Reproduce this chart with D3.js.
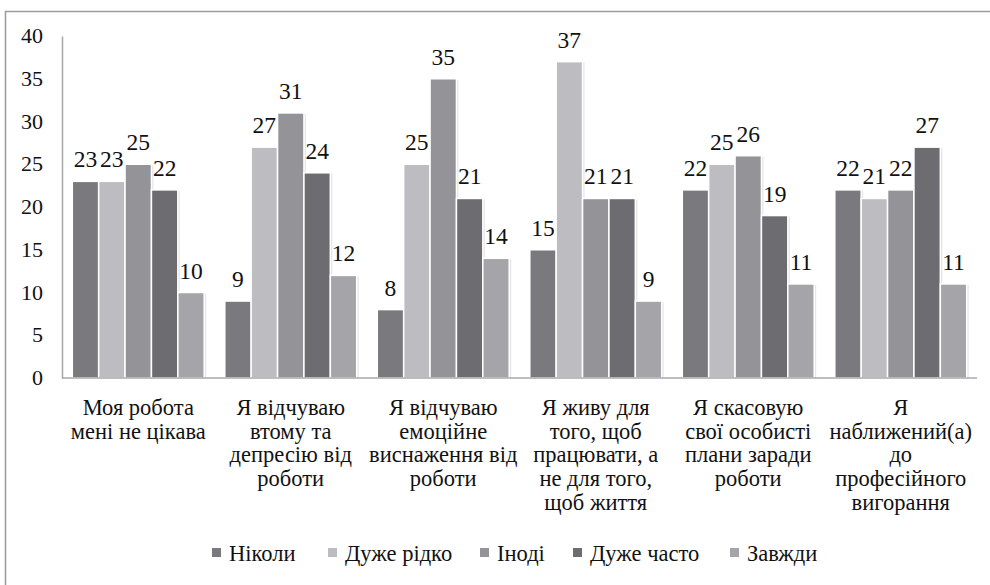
<!DOCTYPE html>
<html>
<head>
<meta charset="utf-8">
<script src="https://cdn.jsdelivr.net/npm/d3@7"></script>
<style>
  body { margin: 0; }
  #chart text { font-family: "Liberation Serif", "Times New Roman", Tinos, serif !important; }
</style>
</head>
<body>
<svg id="chart" width="990" height="585"></svg>
<script>
// Categories (statements), wrapped as shown on the axis
const categories = [
  ["Моя робота", "мені не цікава"],
  ["Я відчуваю", "втому та", "депресію від", "роботи"],
  ["Я відчуваю", "емоційне", "виснаження від", "роботи"],
  ["Я живу для", "того, щоб", "працювати, а", "не для того,", "щоб життя"],
  ["Я скасовую", "свої особисті", "плани заради", "роботи"],
  ["Я", "наближений(а)", "до", "професійного", "вигорання"]
];
const seriesNames = ["Ніколи", "Дуже рідко", "Іноді", "Дуже часто", "Завжди"];
const seriesColors = ["#7a7a7e", "#bdbdc1", "#949498", "#6d6d71", "#a5a5a9"];

// Values per series, one per category
const nikoly      = [23, 9, 8, 15, 22, 22];
const duzheRidko  = [23, 27, 25, 37, 25, 21];
const inodi       = [25, 31, 35, 21, 26, 22];
const duzheChasto = [22, 24, 21, 21, 19, 27];
const zavzhdy     = [10, 12, 14, 9, 11, 11];
const seriesValues = [nikoly, duzheRidko, inodi, duzheChasto, zavzhdy];

const yTicks = [0, 5, 10, 15, 20, 25, 30, 35, 40];

const FONT = "Times New Roman";

const svg = d3.select("#chart");

// Serif text helper
function serifText(sel, size) {
  return sel
    .attr("font-family", FONT)
    .style("font-family", `"${FONT}"`)
    .attr("font-size", size)
    .attr("fill", "#111");
}

// Outer frame
svg.append("rect")
  .attr("x", 5.5).attr("y", 11.5).attr("width", 1000).attr("height", 600)
  .attr("fill", "none").attr("stroke", "#9a9a9a").attr("stroke-width", 1.5);

const plot = { left: 62, right: 977, top: 36, bottom: 378 };

const x0 = d3.scaleBand()
  .domain(d3.range(categories.length))
  .range([plot.left, plot.right])
  .paddingInner(0).paddingOuter(0);

const x1 = d3.scaleBand()
  .domain(d3.range(seriesNames.length))
  .range([0, x0.bandwidth()])
  .paddingInner(0).paddingOuter(0.39);

const y = d3.scaleLinear().domain([0, 40]).range([plot.bottom, plot.top]);

// Y axis line (labels are placed separately below)
const yAxis = d3.axisLeft(y).tickValues(yTicks).tickSize(0).tickFormat("");
const gy = svg.append("g").attr("transform", `translate(${plot.left},0)`).call(yAxis);
gy.select(".domain").attr("stroke", "#a8a8a8").attr("stroke-width", 1.5);

// Flat list of bars
const bars = categories.flatMap((c, i) =>
  seriesValues.map((vals, s) => ({ i, s, v: vals[i] })));
const barX = d => x0(d.i) + x1(d.s);

// Faint offset shadow behind each bar
svg.selectAll("rect.shadow")
  .data(bars)
  .join("rect")
  .attr("class", "shadow")
  .attr("x", d => barX(d) + 2)
  .attr("y", d => y(d.v) + 1)
  .attr("width", x1.bandwidth())
  .attr("height", d => y(0) - y(d.v) - 1)
  .attr("fill", "#000")
  .attr("opacity", 0.1);

svg.selectAll("rect.bar")
  .data(bars)
  .join("rect")
  .attr("class", "bar")
  .attr("x", barX)
  .attr("y", d => y(d.v))
  .attr("width", x1.bandwidth())
  .attr("height", d => y(0) - y(d.v))
  .attr("fill", d => seriesColors[d.s])
  .attr("stroke", "#fff")
  .attr("stroke-width", 1.5);

// X axis line
svg.append("line")
  .attr("x1", plot.left).attr("x2", plot.right)
  .attr("y1", plot.bottom).attr("y2", plot.bottom)
  .attr("stroke", "#a8a8a8").attr("stroke-width", 1.5);

// Y tick labels
yTicks.forEach(t => {
  serifText(svg.append("text"), 22)
    .attr("x", 43).attr("y", y(t) + 7)
    .attr("text-anchor", "end")
    .text(t);
});

// Value labels
bars.forEach(d => {
  serifText(svg.append("text"), 23.5)
    .attr("x", barX(d) + x1.bandwidth() / 2)
    .attr("y", y(d.v) - 14)
    .attr("text-anchor", "middle")
    .text(d.v);
});

// Category labels
categories.forEach((lines, i) => {
  const cx = x0(i) + x0.bandwidth() / 2;
  lines.forEach((ln, k) => {
    serifText(svg.append("text"), 22.5)
      .attr("x", cx).attr("y", 415 + k * 23.7)
      .attr("text-anchor", "middle")
      .text(ln);
  });
});

// Legend
const legendX = [212, 328, 480, 573, 730];
seriesNames.forEach((name, s) => {
  svg.append("rect")
    .attr("x", legendX[s]).attr("y", 548)
    .attr("width", 9).attr("height", 9)
    .attr("fill", seriesColors[s]);
  serifText(svg.append("text"), 22.5)
    .attr("x", legendX[s] + 17).attr("y", 561)
    .text(name);
});
</script>
</body>
</html>
